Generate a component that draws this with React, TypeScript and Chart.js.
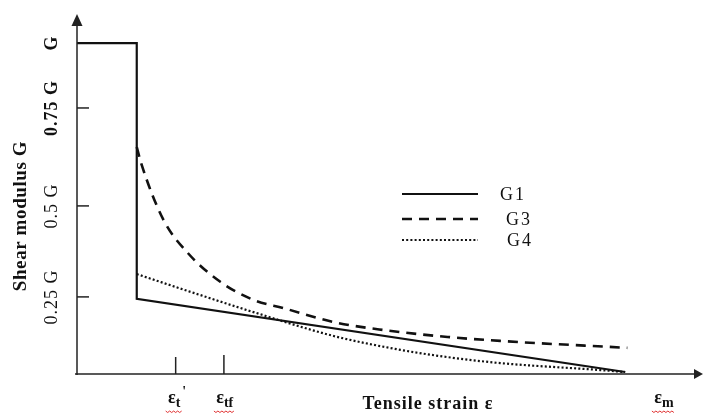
import React, { useEffect, useRef } from "react";
import { Chart, registerables } from "chart.js";

Chart.register(...registerables);

// Schematic units: strain normalised to eps_m = 1, modulus as drawn (G = 1)
const strainG1 = [0, 0.109, 0.109, 1.0];
const modulusG1 = [1.0, 1.0, 0.227, 0.006];

const strainG3 = [0.109, 0.117, 0.158, 0.202, 0.262, 0.322, 0.377, 0.468, 0.559, 0.676, 0.772, 1.004];
const modulusG3 = [0.686, 0.637, 0.465, 0.366, 0.278, 0.224, 0.199, 0.157, 0.133, 0.112, 0.1, 0.079];

const strainG4 = [0.109, 0.202, 0.322, 0.468, 0.59, 0.676, 0.772, 0.954, 1.0];
const modulusG4 = [0.302, 0.251, 0.187, 0.115, 0.073, 0.051, 0.033, 0.012, 0.006];

const seriesNames = ["G1", "G3", "G4"];

const yTickValues = [0.233, 0.508, 0.804, 1.0];
const yTickLabels = ["0.25 G", "0.5 G", "0.75 G", "G"];
const yTickBold = [false, false, true, true];

const xMarkValues = [0.18, 0.268];
const xLabelValues = [0.18, 0.268, 1.067];
const xLabelMain = ["ε", "ε", "ε"];
const xLabelSub = ["t", "tf", "m"];
const xLabelSup = ["'", "", ""];

const xTitle = "Tensile strain ε";
const yTitle = "Shear modulus G";

const INK = "#111";

function pts(xs: number[], ys: number[]) {
  return xs.map((x, i) => ({ x, y: ys[i] }));
}

function spaced(ctx: any, px: string) {
  try {
    ctx.letterSpacing = px;
  } catch (e) {}
}

const overlay = {
  id: "schematicOverlay",
  afterDatasetsDraw(chart: any) {
    const ctx = chart.ctx as any;
    const xs = chart.scales.x;
    const ys = chart.scales.y;
    const a = chart.chartArea;
    const x0 = xs.getPixelForValue(0);
    const y0 = ys.getPixelForValue(0);
    ctx.save();
    ctx.strokeStyle = "#222";
    ctx.fillStyle = "#222";
    ctx.lineWidth = 1.5;
    // y axis
    ctx.beginPath();
    ctx.moveTo(x0, y0 + 1);
    ctx.lineTo(x0, a.top + 10);
    ctx.stroke();
    ctx.beginPath();
    ctx.moveTo(x0, a.top);
    ctx.lineTo(x0 - 5.5, a.top + 12);
    ctx.lineTo(x0 + 5.5, a.top + 12);
    ctx.closePath();
    ctx.fill();
    // x axis
    ctx.beginPath();
    ctx.moveTo(x0 - 2, y0);
    ctx.lineTo(a.right - 8, y0);
    ctx.stroke();
    ctx.beginPath();
    ctx.moveTo(a.right, y0);
    ctx.lineTo(a.right - 9, y0 - 5);
    ctx.lineTo(a.right - 9, y0 + 5);
    ctx.closePath();
    ctx.fill();

    // y ticks
    ctx.lineWidth = 1.5;
    yTickValues.forEach((v, i) => {
      const py = ys.getPixelForValue(v);
      if (i < yTickValues.length - 1) {
        ctx.beginPath();
        ctx.moveTo(x0, py);
        ctx.lineTo(x0 + 12, py);
        ctx.stroke();
      }
      ctx.save();
      ctx.translate(52, py);
      ctx.rotate(-Math.PI / 2);
      ctx.font = `${yTickBold[i] ? "bold " : ""}18px "Liberation Serif", serif`;
      spaced(ctx, "1px");
      ctx.fillStyle = INK;
      ctx.textAlign = "center";
      ctx.textBaseline = "middle";
      ctx.fillText(yTickLabels[i], 0, 0);
      ctx.restore();
    });

    // x tick marks
    xMarkValues.forEach((v, i) => {
      const px = xs.getPixelForValue(v);
      ctx.beginPath();
      ctx.moveTo(px, y0);
      ctx.lineTo(px, y0 - 17 - i * 2);
      ctx.stroke();
    });

    // x mark labels
    xLabelValues.forEach((v, i) => {
      const px = xs.getPixelForValue(v);
      const base = 403;
      ctx.fillStyle = INK;
      ctx.textBaseline = "alphabetic";
      ctx.font = `bold 18px "Liberation Serif", serif`;
      ctx.textAlign = "right";
      ctx.fillText(xLabelMain[i], px, base);
      ctx.font = `bold 14px "Liberation Serif", serif`;
      ctx.textAlign = "left";
      ctx.fillText(xLabelSub[i], px, base + 4);
      const sw = ctx.measureText(xLabelSub[i]).width;
      if (xLabelSup[i]) {
        ctx.font = `bold 14px "Liberation Serif", serif`;
        ctx.fillText(xLabelSup[i], px + sw + 2, base - 7);
      }
      // red spell-check squiggle
      ctx.strokeStyle = "#e03030";
      ctx.lineWidth = 1;
      ctx.beginPath();
      const sx = px - 10;
      const ex = px + sw + 2;
      for (let xx = sx, k = 0; xx <= ex; xx += 2, k++) {
        const yy = base + 8 + (k % 2 === 0 ? 0 : 1.5);
        if (k === 0) ctx.moveTo(xx, yy);
        else ctx.lineTo(xx, yy);
      }
      ctx.stroke();
    });

    // axis titles
    ctx.fillStyle = INK;
    ctx.font = `bold 18px "Liberation Serif", serif`;
    spaced(ctx, "1px");
    ctx.textAlign = "center";
    ctx.textBaseline = "middle";
    ctx.fillText(xTitle, 428, 404);
    ctx.save();
    ctx.translate(21, 216);
    ctx.rotate(-Math.PI / 2);
    ctx.font = `bold 19px "Liberation Serif", serif`;
    spaced(ctx, "0.6px");
    ctx.fillText(yTitle, 0, 0);
    ctx.restore();

    // legend
    const legendY = [194, 219, 240];
    const legendTextX = [500, 506, 507];
    chart.data.datasets.forEach((ds: any, i: number) => {
      ctx.save();
      ctx.strokeStyle = ds.borderColor;
      ctx.lineWidth = ds.borderWidth;
      ctx.setLineDash(ds.borderDash || []);
      ctx.beginPath();
      ctx.moveTo(402, legendY[i]);
      ctx.lineTo(478, legendY[i]);
      ctx.stroke();
      ctx.restore();
      ctx.fillStyle = INK;
      ctx.font = `18px "Liberation Serif", serif`;
      spaced(ctx, "2px");
      ctx.textAlign = "left";
      ctx.textBaseline = "middle";
      ctx.fillText(ds.label, legendTextX[i], legendY[i] + 1);
    });
    ctx.restore();
  },
};

export default function App() {
  const ref = useRef<HTMLCanvasElement | null>(null);
  useEffect(() => {
    document.body.style.margin = "0";
    const canvas = ref.current;
    if (!canvas) return;
    const chart = new Chart(canvas, {
      type: "scatter",
      data: {
        datasets: [
          {
            label: seriesNames[0],
            data: pts(strainG1, modulusG1),
            showLine: true,
            borderColor: INK,
            borderWidth: 2.2,
            pointRadius: 0,
            tension: 0,
          },
          {
            label: seriesNames[1],
            data: pts(strainG3, modulusG3),
            showLine: true,
            borderColor: INK,
            borderWidth: 2.6,
            borderDash: [10, 7],
            pointRadius: 0,
            cubicInterpolationMode: "monotone",
          },
          {
            label: seriesNames[2],
            data: pts(strainG4, modulusG4),
            showLine: true,
            borderColor: "#111",
            borderWidth: 2.2,
            borderDash: [2, 2.2],
            pointRadius: 0,
            cubicInterpolationMode: "monotone",
          },
        ],
      } as any,
      options: {
        responsive: false,
        animation: false,
        devicePixelRatio: 1,
        layout: { padding: { left: 77, right: 2, top: 14, bottom: 40 } },
        plugins: { legend: { display: false }, tooltip: { enabled: false } },
        scales: {
          x: { type: "linear", min: 0, max: 1.142, display: false },
          y: { type: "linear", min: 0, max: 1.088, display: false },
        },
      } as any,
      plugins: [overlay],
    });
    return () => chart.destroy();
  }, []);
  return (
    <div style={{ position: "absolute", left: 0, top: 0, width: 705, height: 414, background: "#fff" }}>
      <canvas ref={ref} width={705} height={414} />
    </div>
  );
}
